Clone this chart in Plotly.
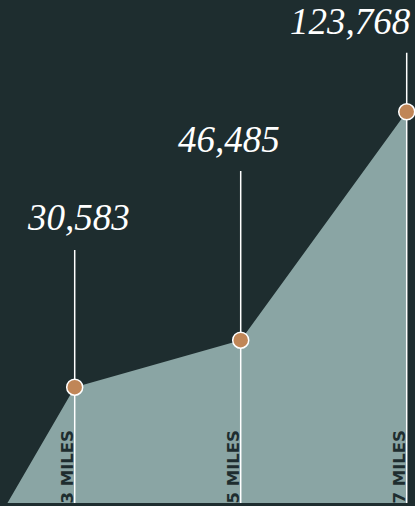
import plotly.graph_objects as go

# ---- data ----
miles = [3, 5, 7]
visitors = [30583, 46485, 123768]
value_labels = ["30,583", "46,485", "123,768"]
mile_labels = ["3 MILES", "5 MILES", "7 MILES"]

# ---- styling / layout ----
BG = "#1e2d2f"
AREA = "#8aa5a4"
DOT = "#c08657"
X_RANGE = [2.1, 7.1]
Y_RANGE = [-8600, 161600]
AREA_START_X = 2.19
stem_top_frac = [0.503, 0.660, 0.895]
label_center_frac = [0.567, 0.722, 0.957]
label_xshift = [4, -12, -56]

def frac_to_y(f):
    return Y_RANGE[0] + f * (Y_RANGE[1] - Y_RANGE[0])

fig = go.Figure()

# area
fig.add_trace(go.Scatter(
    x=[AREA_START_X] + miles + [miles[-1]],
    y=[Y_RANGE[0]] + visitors + [Y_RANGE[0]],
    fill="toself", fillcolor=AREA, mode="lines",
    line=dict(width=0, color=AREA), hoverinfo="skip", showlegend=False,
))

# stems
for m, f in zip(miles, stem_top_frac):
    fig.add_trace(go.Scatter(
        x=[m, m], y=[Y_RANGE[0], frac_to_y(f)], mode="lines",
        line=dict(color="white", width=1.5), hoverinfo="skip", showlegend=False,
    ))

# markers
fig.add_trace(go.Scatter(
    x=miles, y=visitors, mode="markers",
    marker=dict(size=16, color=DOT, line=dict(color="white", width=1.5)),
    showlegend=False,
))

# value labels
for m, lab, f, xs in zip(miles, value_labels, label_center_frac, label_xshift):
    fig.add_annotation(
        x=m, y=f, xref="x", yref="paper", text=lab, showarrow=False,
        xanchor="center", yanchor="middle", xshift=xs,
        font=dict(family="Liberation Serif", size=37, color="white", style="italic"),
    )

# mile labels
for m, lab in zip(miles, mile_labels):
    fig.add_annotation(
        x=m, y=0.072, xref="x", yref="paper", text=lab, showarrow=False,
        textangle=-90, xanchor="center", yanchor="middle", xshift=-7,
        font=dict(family="DejaVu Sans", size=16.5, color=BG, weight="bold"),
    )

fig.update_layout(
    width=415, height=506,
    margin=dict(l=0, r=0, t=0, b=3),
    paper_bgcolor=BG, plot_bgcolor=BG,
    xaxis=dict(range=X_RANGE, visible=False, fixedrange=True),
    yaxis=dict(range=Y_RANGE, visible=False, fixedrange=True),
    showlegend=False,
)

fig.write_html(
    "out.html",
    config={"displayModeBar": False},
    post_script="document.body.style.margin='0';document.body.style.overflow='hidden';",
)
